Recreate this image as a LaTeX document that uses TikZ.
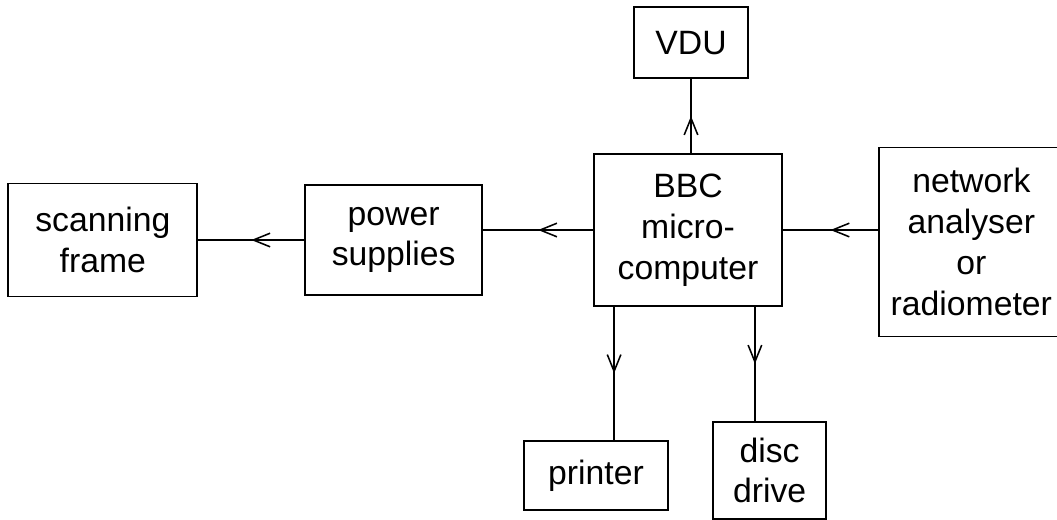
\documentclass[tikz,border=0pt]{standalone}
\usepackage{fontspec}
\setmainfont{Liberation Sans}
\usetikzlibrary{positioning,arrows.meta,decorations.markings}

\begin{document}
\begin{tikzpicture}[
    font=\fontsize{24}{29}\selectfont,
    block/.style={rectangle, draw=black, line width=1.3pt, align=center, inner sep=0pt},
    midarrow/.style={line width=1.3pt, postaction={decorate},
        decoration={markings, mark=at position 0.5 with {\arrow{Straight Barb[length=0.42cm,width=0.34cm,line width=1.1pt]}}}}
]
    \useasboundingbox (0,0) rectangle (26.425,-12.975);
    \node[block, minimum width=4.7cm, minimum height=3.8cm] (BBC) at (17.2,-5.75) {BBC\\micro-\\computer};
    \node[block, minimum width=2.85cm, minimum height=1.775cm, above=1.85cm of BBC, xshift=0.075cm] (VDU) {VDU};
    \node[block, minimum width=4.425cm, minimum height=2.75cm, left=2.75cm of BBC, yshift=-0.25cm] (POWER) {power\\supplies};
    \node[block, minimum width=4.725cm, minimum height=2.825cm, left=2.65cm of POWER] (SCAN) {scanning\\frame};
    \node[block, minimum width=4.625cm, minimum height=4.725cm, right=2.375cm of BBC, yshift=-0.3cm] (NET) {network\\analyser\\or\\radiometer};
    \node[block, minimum width=3.6cm, minimum height=1.725cm, below=3.325cm of BBC, xshift=-2.3cm] (PRINTER) {printer};
    \node[block, minimum width=2.825cm, minimum height=2.425cm, below=2.85cm of BBC, xshift=2.04cm] (DISC) {disc\\drive};

    % links out of the micro
    \draw[midarrow] (BBC.north -| VDU.south) -- (VDU.south);
    \draw[midarrow] (BBC.west) -- (BBC.west -| POWER.east);
    \draw[midarrow] (POWER.west |- SCAN.east) -- (SCAN.east);
    \draw[midarrow] (NET.west |- BBC.east) -- (BBC.east);
    \draw[midarrow] ([xshift=0.525cm]BBC.south west) -- ([xshift=0.525cm]BBC.south west |- PRINTER.north);
    \draw[midarrow] ([xshift=-0.7cm]BBC.south east) -- ([xshift=-0.7cm]BBC.south east |- DISC.north);
\end{tikzpicture}
\end{document}
